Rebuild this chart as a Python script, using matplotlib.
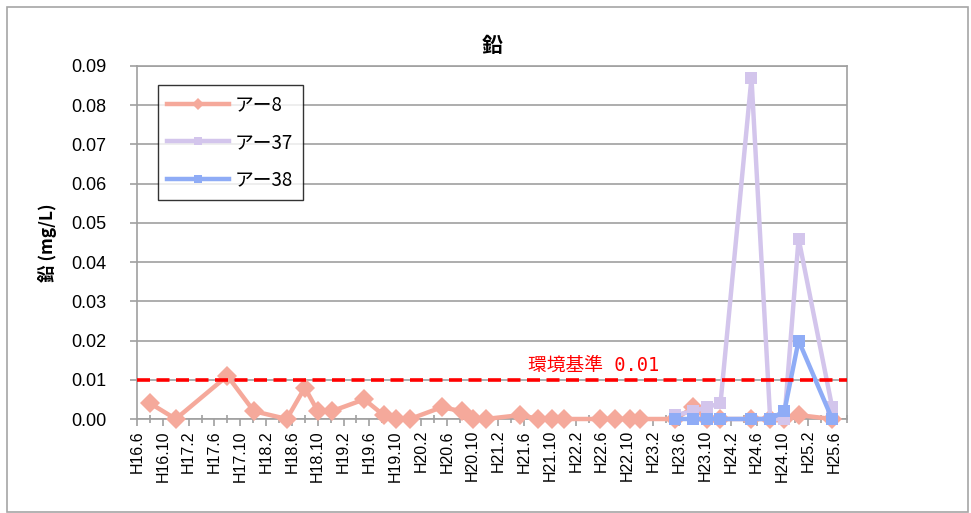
import matplotlib
matplotlib.use("Agg")
import matplotlib.pyplot as plt
from matplotlib.patches import Rectangle

plt.rcParams['font.family'] = ['Liberation Sans', 'Noto Sans CJK JP', 'DejaVu Sans']

# ---------------- data ----------------
title = "鉛"
ylabel = "鉛 (mg/L)"
std_label = "環境基準 0.01"
std_value = 0.01

tick_labels = ["H16.6", "H16.10", "H17.2", "H17.6", "H17.10", "H18.2", "H18.6",
               "H18.10", "H19.2", "H19.6", "H19.10", "H20.2", "H20.6", "H20.10",
               "H21.2", "H21.6", "H21.10", "H22.2", "H22.6", "H22.10", "H23.2",
               "H23.6", "H23.10", "H24.2", "H24.6", "H24.10", "H25.2", "H25.6"]
axis_start = "H16.6"
axis_end = "H25.8"

a8_dates = ["H16.8.2", "H16.12.1", "H17.8.1", "H17.12.4", "H18.5.7", "H18.8.1",
            "H18.10.1", "H18.12.7", "H19.5.7", "H19.8.7", "H19.10.7", "H19.12.10",
            "H20.5.7", "H20.8.10", "H20.10.4", "H20.12.1", "H21.5.13", "H21.8.7",
            "H21.10.10", "H21.12.7", "H22.5.22", "H22.8.4", "H22.10.13", "H22.12.1",
            "H23.5.13", "H23.8.7", "H23.10.10", "H23.12.13", "H24.5.7", "H24.8.4",
            "H24.10.10", "H24.12.16", "H25.5.22"]
a8_values = [0.004, 0.000, 0.011, 0.002, 0.000, 0.008,
             0.002, 0.002, 0.005, 0.001, 0.000, 0.000,
             0.003, 0.002, 0.000, 0.000, 0.001, 0.000,
             0.000, 0.000, 0.000, 0.000, 0.000, 0.000,
             0.000, 0.003, 0.000, 0.000, 0.000, 0.000,
             0.000, 0.001, 0.000]

a37_dates = ["H23.5.13", "H23.8.7", "H23.10.10", "H23.12.13", "H24.5.7", "H24.8.4",
             "H24.10.10", "H24.12.16", "H25.5.22"]
a37_values = [0.001, 0.002, 0.003, 0.004, 0.087, 0.000, 0.000, 0.046, 0.003]

a38_dates = ["H23.5.13", "H23.8.7", "H23.10.10", "H23.12.13", "H24.5.7", "H24.8.4",
             "H24.10.10", "H24.12.16", "H25.5.22"]
a38_values = [0.000, 0.000, 0.000, 0.000, 0.000, 0.000, 0.002, 0.020, 0.000]

series_names = ["アー8", "アー37", "アー38"]
series_colors = ["#F5A99B", "#D3C5EC", "#8FACF6"]


def to_months(s):
    parts = s[1:].split(".")
    y, m = int(parts[0]), int(parts[1])
    d = int(parts[2]) if len(parts) > 2 else 1
    return (y - 16) * 12 + (m - 6) + (d - 1) / 30.0


# ---------------- figure ----------------
W, H = 971, 513
fig = plt.figure(figsize=(W / 100, H / 100), dpi=100)
fig.patches.append(Rectangle((7 / W, 1 / H), (968 - 7) / W, (506 - 1) / H,
                             transform=fig.transFigure, fill=False,
                             edgecolor="#a6a6a6", lw=1.2))

ax = fig.add_axes([137 / W, (H - 419) / H, 710 / W, 353 / H])

grid_c = "#a0a0a0"
for sp in ax.spines.values():
    sp.set_color(grid_c)
    sp.set_linewidth(1.2)
ax.set_axisbelow(True)
ax.yaxis.grid(True, color=grid_c, lw=1.2)

ax.set_xlim(to_months(axis_start), to_months(axis_end))
ax.set_ylim(0, 0.09)
ax.set_yticks([i * 0.01 for i in range(10)])
ax.set_yticklabels([f"{i * 0.01:.2f}" for i in range(10)])

major = [to_months(t) for t in tick_labels]
ax.set_xticks(major)
ax.set_xticklabels(tick_labels, rotation=90, fontsize=11.5)
minor = [(a + b) / 2 for a, b in zip(major[:-1], major[1:])] + [major[-1] + 2]
ax.set_xticks(minor, minor=True)
ax.tick_params(axis="x", which="major", direction="out", length=5, width=1.2,
               color=grid_c, pad=3)
ax.tick_params(axis="x", which="minor", direction="inout", length=6, width=1.2,
               color=grid_c)
ax.tick_params(axis="y", direction="out", length=5, width=1.2, color=grid_c,
               labelsize=13, pad=17)

all_series = [(a8_dates, a8_values, "D", 10.5),
              (a37_dates, a37_values, "s", 9),
              (a38_dates, a38_values, "s", 9)]
for (dates, vals, mk, ms), name, col in zip(all_series, series_names, series_colors):
    ax.plot([to_months(d) for d in dates], vals, color=col, lw=3.2, marker=mk,
            markersize=ms, markeredgewidth=0, label=name, zorder=3,
            clip_on=False)

ax.axhline(std_value, color="#FF0000", lw=2.6, dashes=(3.6, 1.8), zorder=5)
ax.text(to_months("H21.6") + 0.6, std_value + 0.0037, std_label, color="#FF0000",
        fontsize=13.5, ha="left", va="center",
        family=["DejaVu Sans Mono", "Noto Sans CJK JP"])

ax.set_title(title, fontsize=15, fontweight="bold", pad=10,
             family=["Noto Sans CJK JP", "DejaVu Sans"])
ax.set_ylabel(ylabel, fontsize=12.5, fontweight="bold", labelpad=10,
              family=["Noto Sans CJK JP", "DejaVu Sans"])

leg = ax.legend(loc="upper left", bbox_to_anchor=((158 - 137) / 710, (419 - 85) / 353),
                borderaxespad=0, frameon=True, fancybox=False, edgecolor="black",
                labelspacing=0.88, handlelength=3.3, borderpad=0.5,
                markerscale=0.6, handletextpad=0.3,
                prop={"family": ["Noto Sans CJK JP", "DejaVu Sans"], "size": 13.5})
leg.get_frame().set_linewidth(1.0)

fig.savefig("out.png", dpi=100)
